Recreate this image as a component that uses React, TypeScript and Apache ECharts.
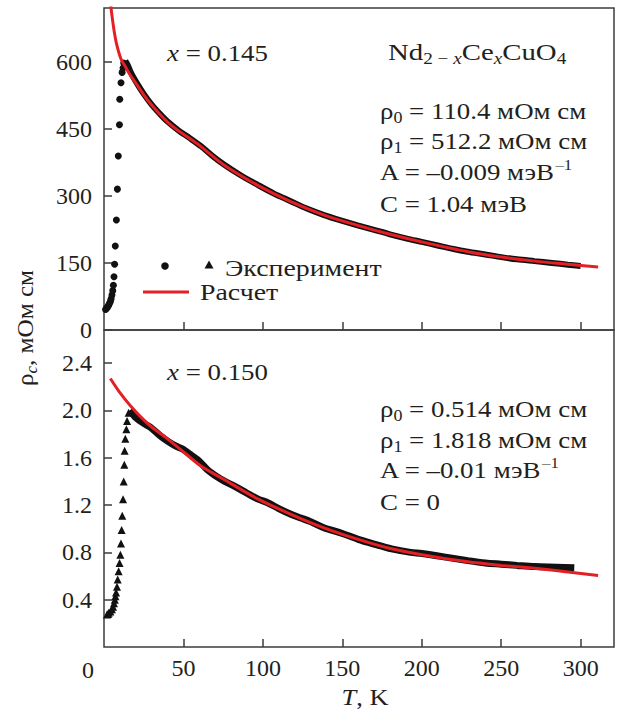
import { useEffect, useRef } from 'react';
import * as echarts from 'echarts';

const FONT = 'Liberation Serif, Times New Roman, serif';
const INK = '#231f20';
const RED = '#e42025';
const FRAME = '#3c3c3c';

const xTicks = [50, 100, 150, 200, 250, 300];
const topYTicks = [0, 150, 300, 450, 600];
const bottomYTicks = [0.4, 0.8, 1.2, 1.6, 2.0, 2.4];

// x = 0.145 : low-temperature rise (individual dots)
const rise145: [number, number][] = [
  [1.0, 46], [1.5, 48], [2.0, 50], [2.5, 53], [3.0, 56], [3.5, 60], [4.0, 64], [4.5, 70],
  [5.0, 78], [5.5, 88], [5.9, 100], [6.3, 119], [6.7, 147], [7.1, 188], [7.8, 246],
  [8.4, 315], [9.0, 389], [9.7, 459], [9.9, 516], [10.7, 553], [11.4, 576], [12.0, 586], [12.4, 597],
];
// x = 0.145 : dense normal-state data
const exp145: [number, number][] = [
  [13.4, 602], [15, 592], [17, 575], [20, 556], [25, 528], [30, 504], [35, 484], [40, 466],
  [47, 446], [54, 429], [61, 411], [68, 390], [75.5, 370], [86, 346], [96.5, 325], [107, 305],
  [117.5, 288], [128, 271], [138.5, 257], [149, 245], [159.6, 234], [170, 224], [180, 214],
  [190, 205], [200, 197], [210, 189], [220, 181], [229, 175], [240, 169], [250, 163],
  [260, 158], [271, 154], [282, 150], [292, 146], [300, 143],
];
// x = 0.145 : fit
const fit145: [number, number][] = [
  [3.8, 745], [4.5, 718], [5.5, 690], [6.5, 666], [8, 638], [10.7, 606], [13.4, 589],
  [16, 573], [20, 552], [25, 526], [30, 503], [35, 483], [40, 465], [47, 445], [54, 428],
  [61, 410], [75.5, 369], [96.5, 324], [117.5, 287], [138.5, 257], [159.6, 234], [180, 214],
  [200, 197], [229, 175], [250, 163], [271, 154], [292, 147], [311, 141],
];

// x = 0.150 : low-temperature rise (triangles)
const rise150: [number, number][] = [
  [1.9, 0.275], [2.5, 0.28], [3.0, 0.29], [4.0, 0.30], [5.0, 0.32], [5.7, 0.34], [6.3, 0.37],
  [6.8, 0.40], [7.2, 0.43], [7.6, 0.46], [8.2, 0.51], [8.6, 0.57], [9.2, 0.64], [9.8, 0.71],
  [10.3, 0.78], [10.7, 0.875], [11.1, 0.99], [11.5, 1.11], [12.0, 1.25], [12.4, 1.40],
  [12.8, 1.54], [13.0, 1.66], [13.4, 1.76], [14.1, 1.84], [14.5, 1.91], [15.5, 1.98],
];
// x = 0.150 : dense normal-state data
const exp150: [number, number][] = [
  [16.2, 2.0], [18, 1.97], [20, 1.94], [25, 1.89], [29, 1.86], [35, 1.79], [40, 1.74],
  [45, 1.70], [50, 1.67], [55, 1.62], [60, 1.57], [65, 1.50], [71, 1.44], [76, 1.40],
  [82, 1.36], [90, 1.30], [97, 1.25], [103, 1.22], [110, 1.17], [118, 1.12], [124, 1.09],
  [130, 1.06], [138, 1.01], [150, 0.96], [160, 0.91], [170, 0.87], [181, 0.83], [193, 0.80],
  [200, 0.79], [215, 0.76], [229, 0.73], [240, 0.71], [250, 0.70], [260, 0.69], [271, 0.68],
  [285, 0.675], [296, 0.67],
];
// x = 0.150 : fit
const fit150: [number, number][] = [
  [4, 2.27], [10, 2.15], [16.6, 2.04], [25, 1.92], [30, 1.86], [40, 1.76], [50, 1.65],
  [61, 1.53], [75, 1.42], [97, 1.25], [118, 1.12], [138, 1.01], [160, 0.91], [181, 0.83],
  [200, 0.78], [229, 0.72], [250, 0.69], [271, 0.665], [292, 0.635], [311, 0.605],
];

const FS = 24;
const rich = {
  m: { fontSize: FS, fontFamily: FONT, fill: INK, lineHeight: 30 },
  i: { fontSize: FS, fontFamily: FONT, fill: INK, lineHeight: 30, fontStyle: 'italic' },
  s: { fontSize: 16, fontFamily: FONT, fill: INK, verticalAlign: 'bottom', lineHeight: 12 },
  si: { fontSize: 16, fontFamily: FONT, fill: INK, verticalAlign: 'bottom', lineHeight: 12, fontStyle: 'italic' },
  p: { fontSize: 15, fontFamily: FONT, fill: INK, verticalAlign: 'top', lineHeight: 10 },
};

function label(x: number, y: number, text: string, extra: any = {}) {
  return {
    type: 'text',
    x,
    y,
    scaleX: 1.12,
    silent: true,
    ...extra,
    style: {
      text, rich, fill: INK, fontSize: FS, fontFamily: FONT,
      align: 'left', verticalAlign: 'middle', ...(extra.style || {}),
    },
  };
}

export default function App() {
  const ref = useRef<HTMLDivElement>(null);
  useEffect(() => {
    const chart = echarts.init(ref.current!, null, { renderer: 'svg' });
    const tickStyle = { color: FRAME, width: 1.5 };
    const axisLabelBase = { fontFamily: FONT, fontSize: 24, color: INK };
    chart.setOption({
      animation: false,
      backgroundColor: '#fff',
      grid: [
        { left: 104, top: 8, width: 510, height: 322, show: true, borderColor: FRAME, borderWidth: 1.5 },
        { left: 104, top: 330, width: 510, height: 317, show: true, borderColor: FRAME, borderWidth: 1.5 },
      ],
      xAxis: [
        {
          gridIndex: 0, type: 'value', min: 0, max: 321,
          axisLine: { show: false },
          axisTick: { show: true, inside: true, length: 8, customValues: xTicks, lineStyle: tickStyle },
          axisLabel: { show: false },
          splitLine: { show: false },
        },
        {
          gridIndex: 1, type: 'value', min: 0, max: 321,
          axisLine: { show: false },
          axisTick: { show: true, inside: true, length: 8, customValues: xTicks, lineStyle: tickStyle },
          axisLabel: { show: true, customValues: xTicks, margin: 9, ...axisLabelBase },
          splitLine: { show: false },
        },
      ],
      yAxis: [
        {
          gridIndex: 0, type: 'value', min: 0, max: 720,
          axisLine: { show: false },
          axisTick: { show: true, inside: true, length: 8, customValues: topYTicks, lineStyle: tickStyle },
          axisLabel: { show: true, customValues: topYTicks, margin: 12, ...axisLabelBase },
          splitLine: { show: false },
        },
        {
          gridIndex: 1, type: 'value', min: 0, max: 2.68,
          axisLine: { show: false },
          axisTick: { show: true, inside: true, length: 8, customValues: bottomYTicks, lineStyle: tickStyle },
          axisLabel: {
            show: true, customValues: bottomYTicks, margin: 12, ...axisLabelBase,
            formatter: (v: number) => v.toFixed(1),
          },
          splitLine: { show: false },
        },
      ],
      series: [
        { name: 'exp145', type: 'line', xAxisIndex: 0, yAxisIndex: 0, data: exp145, showSymbol: false, smooth: 0.3, lineStyle: { color: '#111', width: 6 }, z: 2 },
        { name: 'rise145', type: 'scatter', xAxisIndex: 0, yAxisIndex: 0, data: rise145, symbol: 'circle', symbolSize: 7, itemStyle: { color: '#111', opacity: 1 }, z: 2 },
        { name: 'fit145', type: 'line', xAxisIndex: 0, yAxisIndex: 0, data: fit145, showSymbol: false, smooth: 0.3, lineStyle: { color: RED, width: 3 }, z: 3, clip: true },
        { name: 'exp150', type: 'line', xAxisIndex: 1, yAxisIndex: 1, data: exp150, showSymbol: false, smooth: 0.3, lineStyle: { color: '#111', width: 7 }, z: 2 },
        { name: 'rise150', type: 'scatter', xAxisIndex: 1, yAxisIndex: 1, data: rise150, symbol: 'triangle', symbolSize: 8, itemStyle: { color: '#111', opacity: 1 }, z: 2 },
        { name: 'fit150', type: 'line', xAxisIndex: 1, yAxisIndex: 1, data: fit150, showSymbol: false, smooth: 0.3, lineStyle: { color: RED, width: 3 }, z: 3, clip: true },
      ],
      graphic: [
        // top panel annotations
        label(167, 53, '{i|x}{m| = 0.145}'),
        label(388, 52, '{m|Nd}{s|2 − }{si|x}{m|Ce}{si|x}{m|CuO}{s|4}', { scaleX: 1.2 }),
        label(380, 111, '{m|ρ}{s|0}{m| = 110.4 мОм см}'),
        label(380, 141, '{m|ρ}{s|1}{m| = 512.2 мОм см}'),
        label(380, 172, '{m|A = –0.009 мэВ}{p|–1}'),
        label(380, 204, '{m|C = 1.04 мэВ}'),
        // legend
        { type: 'circle', shape: { cx: 165, cy: 266, r: 3.8 }, style: { fill: '#111' }, silent: true },
        { type: 'polygon', shape: { points: [[209, 260.5], [213.5, 268.5], [204.5, 268.5]] }, style: { fill: '#111' }, silent: true },
        label(225, 268, '{m|Эксперимент}', { scaleX: 1.16 }),
        { type: 'line', shape: { x1: 143, y1: 292, x2: 189, y2: 292 }, style: { stroke: RED, lineWidth: 3 }, silent: true },
        label(200, 292, '{m|Расчет}', { scaleX: 1.16 }),
        // bottom panel annotations
        label(167, 372, '{i|x}{m| = 0.150}'),
        label(380, 409, '{m|ρ}{s|0}{m| = 0.514 мОм см}'),
        label(380, 440, '{m|ρ}{s|1}{m| = 1.818 мОм см}'),
        label(380, 470, '{m|A = –0.01 мэВ}{p|–1}'),
        label(380, 502, '{m|C = 0}'),
        // axis titles and lone zero label
        { type: 'text', x: 88, y: 670, silent: true, style: { text: '0', fill: INK, fontSize: 24, fontFamily: FONT, align: 'center', verticalAlign: 'middle' } },
        label(365, 697, '{i|T}{m|, K}', { scaleX: 1.1, style: { align: 'center' } }),
        label(25, 328, '{m|ρ}{si|c}{m|, мОм см}', { scaleX: 1.05, rotation: Math.PI / 2, style: { align: 'center' } }),
      ],
    });
    return () => chart.dispose();
  }, []);
  return (
    <div
      ref={ref}
      style={{ position: 'fixed', left: 0, top: 0, width: 618, height: 712, background: '#fff' }}
    />
  );
}
